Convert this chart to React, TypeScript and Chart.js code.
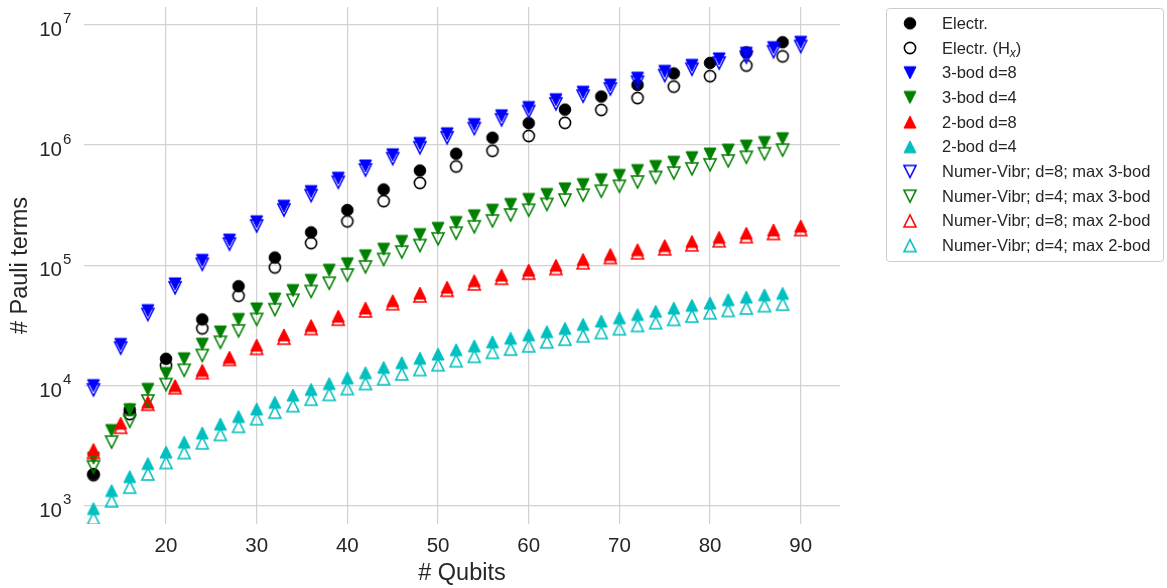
import { useEffect, useRef } from 'react';
import { Chart, registerables } from 'chart.js';

Chart.register(...registerables);

// ---------- data ----------
const xTicks = [20, 30, 40, 50, 60, 70, 80, 90];
const yTicks = [1e3, 1e4, 1e5, 1e6, 1e7];

const xTitle = '# Qubits';
const yTitle = '# Pauli terms';

const electrQubits = [12, 16, 20, 24, 28, 32, 36, 40, 44, 48, 52, 56, 60, 64, 68, 72, 76, 80, 84, 88];
const electr = [1840, 6300, 16700, 35500, 67000, 116000, 188000, 288000, 427000, 614000, 847000, 1150000, 1520000, 1970000, 2530000, 3160000, 3940000, 4820000, 5890000, 7160000];
const electrHx = [1800, 5800, 14700, 29900, 55800, 96000, 153000, 232000, 342000, 484000, 663000, 896000, 1190000, 1530000, 1960000, 2460000, 3060000, 3740000, 4580000, 5460000];

const step3Qubits = [12, 15, 18, 21, 24, 27, 30, 33, 36, 39, 42, 45, 48, 51, 54, 57, 60, 63, 66, 69, 72, 75, 78, 81, 84, 87, 90];
const step2Qubits = [12, 14, 16, 18, 20, 22, 24, 26, 28, 30, 32, 34, 36, 38, 40, 42, 44, 46, 48, 50, 52, 54, 56, 58, 60, 62, 64, 66, 68, 70, 72, 74, 76, 78, 80, 82, 84, 86, 88];

const bod3d8 = [10000, 22000, 42000, 70000, 110000, 162000, 230000, 310000, 410000, 530000, 670000, 830000, 1030000, 1240000, 1480000, 1750000, 2050000, 2380000, 2750000, 3150000, 3600000, 4100000, 4600000, 5200000, 5800000, 6450000, 7150000];
const bod3d4 = [2490, 4230, 6300, 9300, 12600, 16700, 22100, 27900, 35500, 43400, 52400, 61700, 75000, 91000, 103000, 120000, 136000, 158000, 180000, 203000, 227000, 258000, 287000, 321000, 353000, 388000, 432000, 469000, 515000, 559000, 614000, 663000, 720000, 785000, 842000, 908000, 980000, 1050000, 1130000];
const bod2d8 = [2950, 4870, 7300, 10000, 13400, 17200, 21700, 26400, 31600, 37800, 44200, 50800, 58700, 65800, 74600, 83000, 91200, 100000, 112000, 123000, 135000, 146000, 158000, 171000, 185000, 197000, 212000];
const bod2d4 = [950, 1340, 1750, 2250, 2800, 3390, 4040, 4790, 5540, 6400, 7260, 8340, 9300, 10400, 11600, 12800, 14200, 15500, 16900, 18300, 19900, 21400, 23100, 24800, 26400, 28100, 29900, 32300, 34400, 36600, 39000, 41500, 44200, 46500, 48600, 51800, 54500, 56900, 58500];

const vibrD8Max3 = [9200, 20500, 39000, 65000, 102000, 150000, 212000, 288000, 380000, 490000, 620000, 770000, 950000, 1150000, 1370000, 1620000, 1900000, 2200000, 2550000, 2920000, 3330000, 3780000, 4270000, 4800000, 5370000, 5970000, 6600000];
const vibrD4Max3 = [2110, 3390, 5040, 7450, 10200, 13400, 17800, 22900, 28500, 35500, 42800, 51200, 60600, 71000, 83000, 97000, 112000, 129000, 146000, 166000, 185000, 209000, 234000, 262000, 287000, 321000, 349000, 383000, 413000, 454000, 493000, 538000, 585000, 634000, 684000, 738000, 791000, 847000, 908000];
const vibrD8Max2 = [2770, 4500, 7000, 9600, 12800, 16500, 20400, 24800, 29800, 35600, 41700, 47900, 55600, 62000, 70000, 78000, 86000, 94000, 105000, 116000, 127000, 137000, 148000, 160000, 173000, 184000, 198000];
const vibrD4Max2 = [787, 1100, 1430, 1840, 2290, 2770, 3340, 3920, 4580, 5300, 6010, 6810, 7700, 8440, 9440, 10400, 11400, 12500, 13600, 14900, 16100, 17500, 18900, 20100, 21400, 23100, 24300, 25900, 27600, 29700, 31600, 33300, 35500, 37800, 40300, 42100, 44200, 46200, 47500];

const FONT = '"Liberation Sans", Arial, Helvetica, sans-serif';
const TEXT = '#262626';

type Shape = 'o' | 'v' | '^';

function makeMarker(shape: Shape, color: string, filled: boolean): HTMLCanvasElement {
  const c = document.createElement('canvas');
  c.width = 20;
  c.height = 20;
  const g = c.getContext('2d')!;
  g.beginPath();
  if (shape === 'o') {
    g.arc(10, 10, filled ? 5.8 : 5.6, 0, Math.PI * 2);
  } else if (shape === 'v') {
    g.moveTo(10, 16);
    g.lineTo(4, 4);
    g.lineTo(16, 4);
    g.closePath();
  } else {
    g.moveTo(10, 4);
    g.lineTo(4, 16);
    g.lineTo(16, 16);
    g.closePath();
  }
  g.lineJoin = 'miter';
  if (filled) {
    g.fillStyle = color;
    g.fill();
    g.lineWidth = 1;
    g.strokeStyle = color;
    g.stroke();
  } else {
    g.lineWidth = 1.6;
    g.strokeStyle = color;
    g.stroke();
  }
  return c;
}

export default function App() {
  const ref = useRef<HTMLCanvasElement | null>(null);

  useEffect(() => {
    document.body.style.margin = '0';
    const canvas = ref.current;
    if (!canvas) return;

    const series: { label: string; xs: number[]; ys: number[]; shape: Shape; color: string; filled: boolean }[] = [
      { label: 'Electr.', xs: electrQubits, ys: electr, shape: 'o', color: '#000000', filled: true },
      { label: 'Electr. (Hx)', xs: electrQubits, ys: electrHx, shape: 'o', color: '#000000', filled: false },
      { label: '3-bod d=8', xs: step3Qubits, ys: bod3d8, shape: 'v', color: '#0000ff', filled: true },
      { label: '3-bod d=4', xs: step2Qubits, ys: bod3d4, shape: 'v', color: '#008000', filled: true },
      { label: '2-bod d=8', xs: step3Qubits, ys: bod2d8, shape: '^', color: '#ff0000', filled: true },
      { label: '2-bod d=4', xs: step2Qubits, ys: bod2d4, shape: '^', color: '#00bfbf', filled: true },
      { label: 'Numer-Vibr; d=8; max 3-bod', xs: step3Qubits, ys: vibrD8Max3, shape: 'v', color: '#0000ff', filled: false },
      { label: 'Numer-Vibr; d=4; max 3-bod', xs: step2Qubits, ys: vibrD4Max3, shape: 'v', color: '#008000', filled: false },
      { label: 'Numer-Vibr; d=8; max 2-bod', xs: step3Qubits, ys: vibrD8Max2, shape: '^', color: '#ff0000', filled: false },
      { label: 'Numer-Vibr; d=4; max 2-bod', xs: step2Qubits, ys: vibrD4Max2, shape: '^', color: '#00bfbf', filled: false },
    ];
    const markers = series.map((s) => makeMarker(s.shape, s.color, s.filled));

    const textPlugin = {
      id: 'texts',
      afterDraw(chart: any) {
        const ctx: CanvasRenderingContext2D = chart.ctx;
        const xs = chart.scales.x;
        const ys = chart.scales.y;
        const area = chart.chartArea;
        ctx.save();
        ctx.fillStyle = TEXT;
        ctx.textBaseline = 'alphabetic';
        // x tick labels
        ctx.font = `20.5px ${FONT}`;
        ctx.textAlign = 'center';
        xTicks.forEach((v) => ctx.fillText(String(v), xs.getPixelForValue(v), 552));
        // y tick labels 10^n
        yTicks.forEach((v) => {
          const py = ys.getPixelForValue(v);
          const exp = String(Math.round(Math.log10(v)));
          ctx.font = `20.5px ${FONT}`;
          ctx.textAlign = 'right';
          ctx.fillText('10', 62, py + 11);
          ctx.font = `15px ${FONT}`;
          ctx.textAlign = 'left';
          ctx.fillText(exp, 63, py - 1.5);
        });
        // axis titles
        ctx.font = `23.5px ${FONT}`;
        ctx.textAlign = 'center';
        ctx.fillText(xTitle, (area.left + area.right) / 2, 580);
        ctx.save();
        ctx.translate(27, (area.top + area.bottom) / 2);
        ctx.rotate(-Math.PI / 2);
        ctx.fillText(yTitle, 0, 0);
        ctx.restore();

        // legend
        ctx.beginPath();
        (ctx as any).roundRect(886.5, 8.5, 277, 253, 3);
        ctx.fillStyle = '#ffffff';
        ctx.fill();
        ctx.strokeStyle = '#cccccc';
        ctx.lineWidth = 1;
        ctx.stroke();
        ctx.fillStyle = TEXT;
        ctx.textAlign = 'left';
        series.forEach((s, i) => {
          const ry = 23.3 + i * 24.7;
          ctx.drawImage(markers[i], 910 - 10, ry - 10);
          ctx.font = `16.5px ${FONT}`;
          if (s.label === 'Electr. (Hx)') {
            let tx = 942;
            const a = 'Electr. (H';
            ctx.fillText(a, tx, ry + 5.5);
            tx += ctx.measureText(a).width;
            ctx.font = `italic 12px ${FONT}`;
            ctx.fillText('x', tx, ry + 8.5);
            tx += ctx.measureText('x').width;
            ctx.font = `16.5px ${FONT}`;
            ctx.fillText(')', tx, ry + 5.5);
          } else {
            ctx.fillText(s.label, 942, ry + 5.5);
          }
        });
        ctx.restore();
      },
    };

    const n = series.length;
    const chart = new Chart(canvas, {
      type: 'scatter',
      data: {
        datasets: series.map((s, i) => ({
          label: s.label,
          data: s.xs.map((x, k) => ({ x, y: s.ys[k] })),
          pointStyle: markers[i] as any,
          pointRadius: 6,
          pointHoverRadius: 6,
          showLine: false,
          order: n - i,
          backgroundColor: s.color,
          borderColor: s.color,
        })),
      },
      options: {
        animation: false,
        responsive: false,
        maintainAspectRatio: false,
        events: [],
        layout: { padding: { left: 0, right: 327, top: 0, bottom: 0 } },
        plugins: { legend: { display: false }, tooltip: { enabled: false } },
        scales: {
          x: {
            type: 'linear',
            min: 10.956,
            max: 94.33,
            afterBuildTicks: (scale: any) => {
              scale.ticks = xTicks.map((v) => ({ value: v }));
            },
            afterFit: (scale: any) => {
              scale.height = 64;
            },
            ticks: { display: false },
            grid: { color: '#d2d2d2', lineWidth: 1.2, drawTicks: false },
            border: { display: false },
          },
          y: {
            type: 'logarithmic',
            min: Math.pow(10, 2.849),
            max: Math.pow(10, 7.1477),
            afterBuildTicks: (scale: any) => {
              scale.ticks = yTicks.map((v) => ({ value: v }));
            },
            afterFit: (scale: any) => {
              scale.width = 84;
            },
            ticks: { display: false },
            grid: { color: '#d2d2d2', lineWidth: 1.2, drawTicks: false },
            border: { display: false },
          },
        },
      },
      plugins: [textPlugin],
    });

    return () => chart.destroy();
  }, []);

  return (
    <div style={{ width: 1167, height: 588, position: 'relative' }}>
      <canvas ref={ref} width={1167} height={588} style={{ display: 'block', width: 1167, height: 588 }} />
    </div>
  );
}
